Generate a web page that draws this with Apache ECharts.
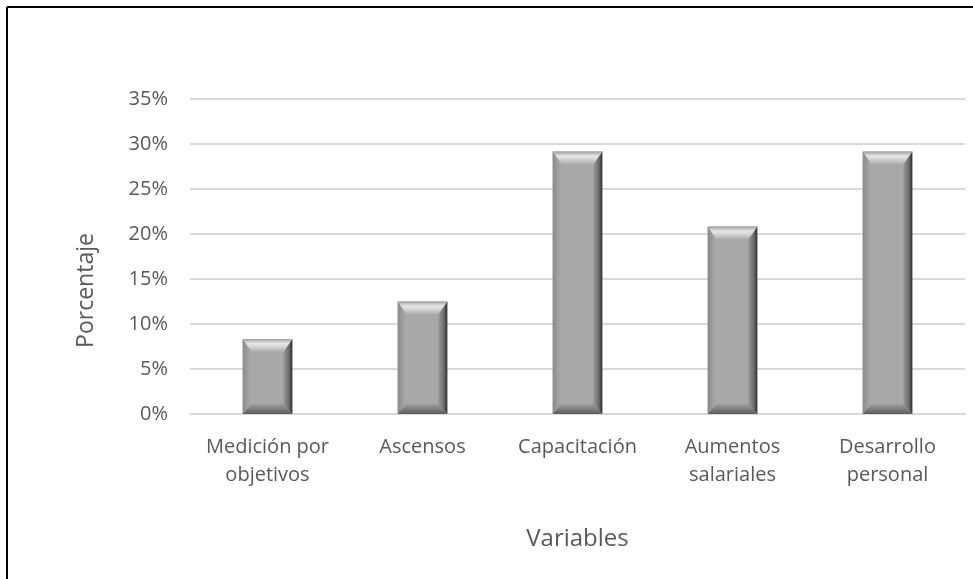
<!DOCTYPE html>
<html>
<head>
<meta charset="utf-8">
<script src="https://cdn.jsdelivr.net/npm/echarts@6/dist/echarts.min.js"></script>
<style>
  html, body { margin: 0; padding: 0; background: #fff; }
  #chart { width: 973px; height: 579px; }
</style>
</head>
<body>
<div id="chart"></div>
<script>
// Share of respondents per incentive type (percent)
const categories = ['Medición por\nobjetivos', 'Ascensos', 'Capacitación', 'Aumentos\nsalariales', 'Desarrollo\npersonal'];
const values = [8.33, 12.5, 29.17, 20.83, 29.17];
const yTicks = [0, 5, 10, 15, 20, 25, 30, 35];

const chart = echarts.init(document.getElementById('chart'));
const LG = echarts.graphic.LinearGradient;

// Bevelled bar: a flat face surrounded by four shaded trapezoids
function renderBevelBar(params, api) {
  const idx = api.value(0);
  const top = api.coord([idx, api.value(1)]);
  const base = api.coord([idx, 0]);
  const w = api.size([1, 0])[0] * 0.32;
  const x0 = top[0] - w / 2, x1 = top[0] + w / 2;
  const yt = top[1], yb = base[1];
  const h = yb - yt;
  const bx = Math.min(9, w / 3);
  const bt = Math.min(13, h / 3);
  const bb = Math.min(10, h / 3);
  const poly = (pts, fill) => ({ type: 'polygon', shape: { points: pts }, style: { fill: fill } });
  return {
    type: 'group',
    children: [
      { type: 'rect', shape: { x: x0, y: yt, width: w, height: h }, style: { fill: '#a8a8a8' } },
      poly([[x0, yt], [x0 + bx, yt + bt], [x0 + bx, yb - bb], [x0, yb]],
        new LG(0, 0, 1, 0, [{ offset: 0, color: '#8a8a8a' }, { offset: 0.5, color: '#9c9c9c' }, { offset: 1, color: '#ababab' }])),
      poly([[x1, yt], [x1 - bx, yt + bt], [x1 - bx, yb - bb], [x1, yb]],
        new LG(0, 0, 1, 0, [{ offset: 0, color: '#9a9a9a' }, { offset: 0.6, color: '#6e6e6e' }, { offset: 1, color: '#2e2e2e' }])),
      poly([[x0, yt], [x1, yt], [x1 - bx, yt + bt], [x0 + bx, yt + bt]],
        new LG(0, 0, 0, 1, [{ offset: 0, color: '#9e9e9e' }, { offset: 0.35, color: '#e6e6e6' }, { offset: 0.6, color: '#d4d4d4' }, { offset: 1, color: '#aaaaaa' }])),
      poly([[x0, yb], [x1, yb], [x1 - bx, yb - bb], [x0 + bx, yb - bb]],
        new LG(0, 0, 0, 1, [{ offset: 0, color: '#9e9e9e' }, { offset: 0.6, color: '#787878' }, { offset: 1, color: '#5a5a5a' }]))
    ]
  };
}

const option = {
  backgroundColor: '#ffffff',
  animation: false,
  textStyle: { fontFamily: '"Open Sans", sans-serif' },
  graphic: [
    { type: 'line', shape: { x1: 7, y1: 7, x2: 973, y2: 7 }, style: { stroke: '#000', lineWidth: 2 } },
    { type: 'line', shape: { x1: 7, y1: 7, x2: 7, y2: 579 }, style: { stroke: '#000', lineWidth: 2 } }
  ],
  grid: { left: 190, right: 8, top: 99, bottom: 165, containLabel: false },
  xAxis: {
    type: 'category',
    data: categories,
    name: 'Variables',
    nameLocation: 'middle',
    nameGap: 113,
    nameTextStyle: { color: '#595959', fontSize: 24 },
    axisLine: { show: true, lineStyle: { color: '#d9d9d9', width: 2 } },
    axisTick: { show: false },
    axisLabel: { color: '#595959', fontSize: 20, margin: 19, lineHeight: 28, interval: 0 }
  },
  yAxis: {
    type: 'value',
    min: 0,
    max: 35,
    interval: 5,
    name: 'Porcentaje',
    nameLocation: 'middle',
    nameGap: 92,
    nameRotate: 90,
    nameTextStyle: { color: '#595959', fontSize: 23, padding: [0, 68, 0, 0] },
    axisLine: { show: false },
    axisTick: { show: false },
    axisLabel: {
      color: '#595959', fontSize: 20, margin: 22,
      formatter: v => (yTicks.indexOf(v) >= 0 ? v + '%' : '')
    },
    splitLine: { lineStyle: { color: '#d9d9d9', width: 2 } }
  },
  series: [{
    type: 'custom',
    renderItem: renderBevelBar,
    encode: { x: 0, y: 1 },
    data: values.map((v, i) => [i, v])
  }]
};

chart.setOption(option);
</script>
</body>
</html>
